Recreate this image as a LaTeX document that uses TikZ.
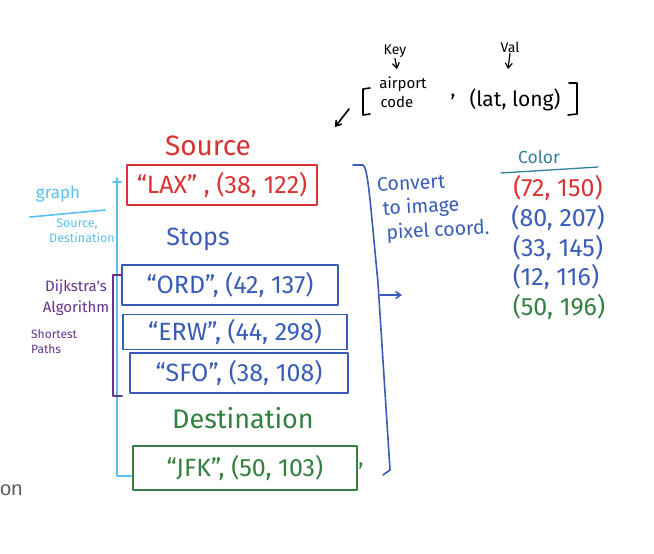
\documentclass[tikz,border=0pt]{standalone}
\usepackage{fontspec}
\usepackage{tikz}
\usetikzlibrary{arrows.meta}
\newfontfamily\hand{Fira Sans}
\newfontfamily\uifont{Liberation Sans}
\definecolor{penred}{rgb}{0.85,0.2,0.2}
\definecolor{penblue}{rgb}{0.22,0.36,0.72}
\definecolor{pengreen}{rgb}{0.2,0.5,0.25}
\definecolor{penlightblue}{rgb}{0.35,0.75,0.95}
\definecolor{penpurple}{rgb}{0.4,0.2,0.55}
\definecolor{penteal}{rgb}{0.2,0.5,0.6}
\newcommand{\fs}[1]{\fontsize{#1}{#1}\selectfont}

\begin{document}
\begin{tikzpicture}[x=1pt, y=-1pt,
    pen/.style={line width=1.6pt, line cap=round, line join=round},
    tip/.style={-{Straight Barb[length=5pt, width=7pt]}},
    entry/.style={draw, pen, inner sep=0pt, font=\hand\fs{25}},
    label/.style={font=\hand\fs{#1}, inner sep=1pt}]
\useasboundingbox (0,0) rectangle (654,554);

% key / value header
\node[label=14] (key) at (395,51) {Key};
\node[label=14] (val) at (510,47) {Val};
\coordinate (keyend) at (397,69);
\coordinate (valend) at (508,69);
\draw[pen, line width=1.2pt, tip] (key.south) -- (keyend);
\draw[pen, line width=1.2pt, tip] (val.south) -- (valend);
\draw[pen] (370,88) -- (363,89) -- (363,115) -- (370,114);
\node[label=15, inner sep=0pt] (airport) at (403,84) {airport};
\node[label=15, inner sep=0pt] (code) at (397,102) {code};
\node[label=20] (comma) at (453,97) {,};
\node[label=21] (latlong) at (515,100) {(lat, long)};
\draw[pen] (569,83) -- (577,83) -- (577,114) -- (568,115);
\coordinate (headfrom) at (349,109);
\coordinate (headto) at (335,127);
\draw[pen, tip] (headfrom) -- (headto);

% route entries
\node[label=28, text=penred] (source) at (208,146) {Source};
\node[entry, draw=penred, text=penred, minimum width=190, minimum height=40] (lax) at (222,185) {“LAX” , (38, 122)};
\node[label=25, text=penblue] (stops) at (198,239) {Stops};
\node[entry, draw=penblue, text=penblue, minimum width=216, minimum height=40] (ord) at (230,285) {“ORD”, (42, 137)};
\node[entry, draw=penblue, text=penblue, minimum width=224, minimum height=35] (erw) at (235,332) {“ERW”, (44, 298)};
\node[entry, draw=penblue, text=penblue, minimum width=218, minimum height=40] (sfo) at (239,373) {“SFO”, (38, 108)};
\node[label=27, text=pengreen] (dest) at (243,418) {Destination};
\node[entry, draw=pengreen, text=pengreen, minimum width=224, minimum height=44] (jfk) at (245,468) {“JFK”, (50, 103)};
\node[label=22, text=pengreen] (jfkcomma) at (361,466) {,};

% graph bracket
\draw[pen, penlightblue] (113,182) -- (121,182);
\draw[pen, penlightblue] (117,178) -- (117,476) -- (131,476);
\node[label=17, text=penlightblue] (graph) at (58,194) {graph};
\draw[pen, penlightblue] (30,217) -- (105,210);
\node[label=12.5, text=penlightblue, inner sep=0pt] (srcname) at (77,224) {Source,};
\node[label=12.5, text=penlightblue, inner sep=0pt] (destname) at (82,238) {Destination};

% shortest path bracket
\draw[pen, penpurple] (122,275) -- (113,275) -- (113,396) -- (122,396);
\node[label=15, text=penpurple, inner sep=0pt] (dijkstra) at (76,287) {Dijkstra's};
\node[label=15, text=penpurple, inner sep=0pt] (algorithm) at (76,308) {Algorithm};
\node[label=12, text=penpurple, inner sep=0pt, anchor=west] (shortest) at (31,334) {Shortest};
\node[label=12, text=penpurple, inner sep=0pt, anchor=west] (paths) at (31,349) {Paths};

% conversion bracket
\draw[pen, penblue] (353,165) -- (363,165) .. controls (368,168) and (370,200) .. (378,283) -- (390,470) -- (383,475);
\coordinate (convfrom) at (380,295);
\coordinate (convto) at (402,295);
\draw[pen, penblue, tip] (convfrom) -- (convto);
\node[label=19.5, text=penblue, rotate=3, inner sep=0pt] (convert) at (411,183) {Convert};
\node[label=19.5, text=penblue, rotate=3, inner sep=0pt] (toimage) at (421,207.5) {to image};
\node[label=19.5, text=penblue, rotate=3, inner sep=0pt] (pixel) at (438,231) {pixel coord.};

% pixel colours
\node[label=17.5, text=penteal] (color) at (539,157) {Color};
\draw[pen, penteal, line width=1.3pt] (501,173) -- (598,167);
\node[label=25, text=penred] (c1) at (558,188) {(72, 150)};
\node[label=25, text=penblue] (c2) at (558,218) {(80, 207)};
\node[label=25, text=penblue] (c3) at (558,248) {(33, 145)};
\node[label=25, text=penblue] (c4) at (556,277) {(12, 116)};
\node[label=25, text=pengreen] (c5) at (559,307) {(50, 196)};

\node[font=\uifont\fs{20}, text=black!65, anchor=west, inner sep=0pt] (cut) at (0,490) {on};
\end{tikzpicture}
\end{document}
